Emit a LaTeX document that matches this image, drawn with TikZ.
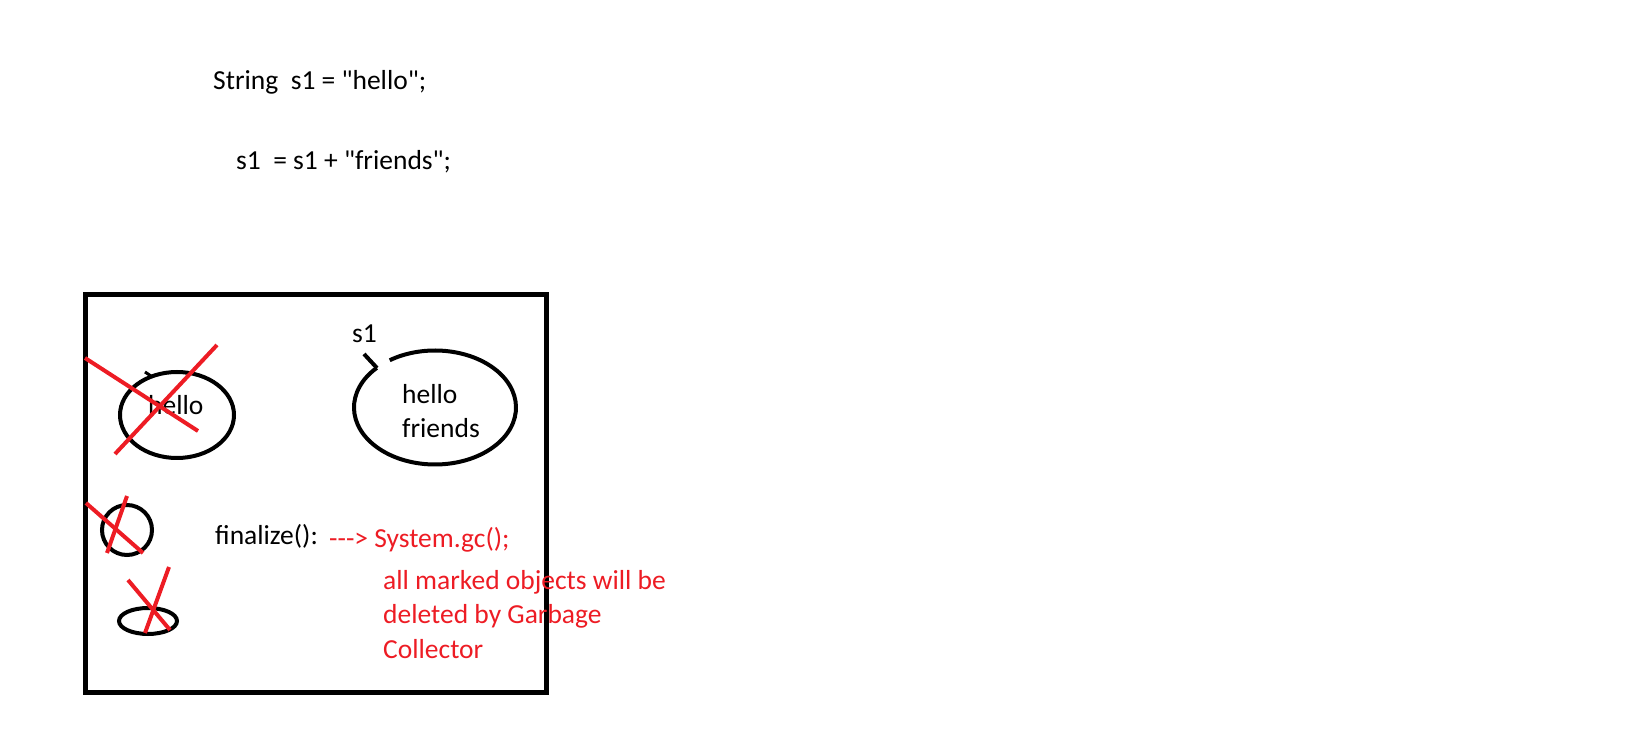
\documentclass[tikz,border=0pt]{standalone}
\usepackage{fontspec}
\newfontfamily\paintfont{Carlito}
\usetikzlibrary{shapes.geometric}
\definecolor{paintred}{RGB}{237,28,36}

\begin{document}
\begin{tikzpicture}[x=1pt,y=1pt,
  txt/.style={font=\paintfont\fontsize{27.5}{34.5}\selectfont,anchor=base west,inner sep=0pt},
  obj/.style={draw,ellipse,line width=4pt,inner sep=0pt},
  gone/.style={draw=paintred,line width=4pt}]
  \useasboundingbox (0,0) rectangle (1635,731);

  % the two statements
  \node[txt] (decl) at (213,641) {String\ \ s1 = "hello";};
  \node[txt] (concat) at (236,561) {s1\ \ = s1 + "friends";};

  % heap
  \node[draw,line width=5pt,minimum width=461pt,minimum height=397pt,inner sep=0pt] (heap) at (315.5,237.5) {};

  % old string, marked
  \node[obj,minimum width=114pt,minimum height=86pt] (hello) at (177,316) {};
  \node[txt] (hellotxt) at (148,316) {hello};
  \draw[line width=3pt] (145,359) -- (151,355);
  \draw[gone] (85,373) -- (198,300);
  \draw[gone] (217,386) -- (115,277);

  % new string referenced by s1
  \coordinate (friends) at (435,323.5);
  \draw[line width=4pt] (friends) ++(136:81 and 57)
    arc[start angle=136,end angle=484,x radius=81,y radius=57];
  \coordinate (s1tip) at (377,363);
  \coordinate (s1tail) at (364,377);
  \draw[line width=4pt] (s1tail) -- (s1tip);
  \node[txt] (s1) at (352,388) {s1};
  \node[txt,align=left] (val) at (402,293) {hello\\friends};

  % other garbage
  \node[obj,minimum width=50pt,minimum height=50pt] (obja) at (127,201) {};
  \draw[gone] (86,228) -- (143,178);
  \draw[gone] (127,235) -- (107,178);
  \node[obj,minimum width=58pt,minimum height=26pt] (objb) at (148,110) {};
  \draw[gone] (128,151) -- (170,101);
  \draw[gone] (169,164) -- (145,98);

  % gc
  \node[txt] (fin) at (215,186) {finalize():};
  \node[txt,text=paintred] (gc) at (329,183) {-{}-{}->\ System.gc();};
  \node[txt,text=paintred,align=left] (note) at (383,73) {all marked objects will be\\deleted by Garbage\\Collector};
\end{tikzpicture}
\end{document}
